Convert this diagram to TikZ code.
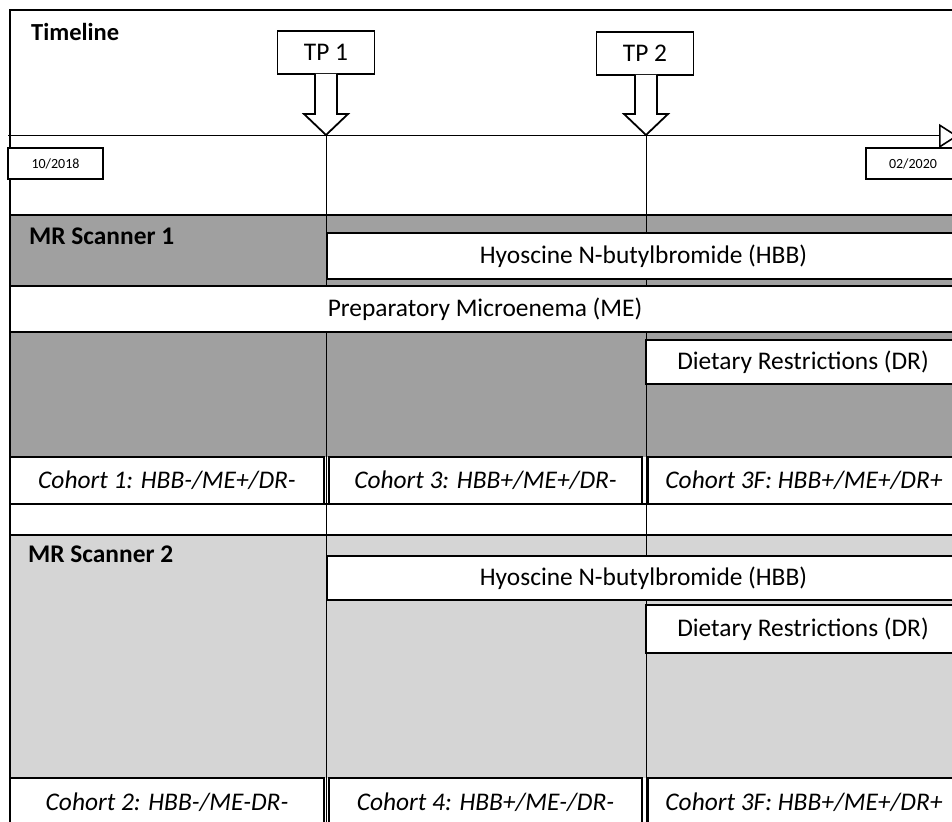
\documentclass[tikz,border=0pt]{standalone}
\usepackage{fontspec}
\setmainfont{Carlito}
\usetikzlibrary{arrows.meta,calc}
\definecolor{dgray}{RGB}{160,160,160}
\definecolor{lgray}{RGB}{213,213,213}
\begin{document}
\begin{tikzpicture}[x=1pt,y=-1pt,
  box/.style={draw, fill=white, line width=1.8pt, inner sep=0pt, outer sep=0pt},
  big/.style={font=\fontsize{25.4}{30}\selectfont},
  bigit/.style={font=\fontsize{25.4}{30}\selectfont\itshape},
  head/.style={font=\fontsize{24.5}{28}\selectfont\bfseries},
  small/.style={font=\fontsize{14}{16}\selectfont},
  sep/.style={line width=1.8pt},
  thinline/.style={line width=1pt},
  barrow/.style={draw, fill=white, line width=1.8pt, line join=miter}]
\useasboundingbox (0,0) rectangle (952,821);
\clip (0,0) rectangle (952,821);
\fill[white] (0,0) rectangle (952,821);
% section backgrounds
\fill[dgray] (10,215) rectangle (960,457);
\fill[lgray] (10,535) rectangle (960,778);
% timeline points and vertical guide lines
\coordinate (t1) at (326,135);
\coordinate (t2) at (646,135);
\coordinate (b1) at (326,840);
\coordinate (b2) at (646,840);
\draw[thinline] (t1) -- (b1);
\draw[thinline] (t2) -- (b2);
% timeline
\coordinate (tl0) at (8,136);
\coordinate (tl1) at (958,136);
\draw[thinline, -{Triangle[open, length=19pt, width=24pt, line width=1.6pt]}] (tl0) -- (tl1);
% outer frame and separators
\draw[sep] (10,840) -- (10,10) -- (970,10);
\draw[sep] (10,215) -- (960,215);
\draw[sep] (10,504) -- (960,504);
\draw[sep] (10,535) -- (960,535);
% headings
\node[head, anchor=base west, inner sep=0pt] (title) at (31,41) {Timeline};
\node[font=\fontsize{25.4}{30}\selectfont\bfseries, anchor=base west, inner sep=0pt] (s1) at (29,244) {MR Scanner 1};
\node[font=\fontsize{25.4}{30}\selectfont\bfseries, anchor=base west, inner sep=0pt] (s2) at (28,562) {MR Scanner 2};
% TP boxes and block arrows
\node[box, big, minimum width=97pt, minimum height=43pt, anchor=north] (tp1) at (326,31) {TP 1};
\node[box, big, minimum width=97pt, minimum height=43pt, anchor=north] (tp2) at (645,32) {TP 2};
\draw[barrow] ($(tp1.south -| t1)+(-11,0)$) -- ($(t1)+(-11,-21)$) -- ($(t1)+(-22,-21)$) -- (t1)
  -- ($(t1)+(22,-21)$) -- ($(t1)+(11,-21)$) -- ($(tp1.south -| t1)+(11,0)$);
\draw[barrow] ($(tp2.south -| t2)+(-11,0)$) -- ($(t2)+(-11,-21)$) -- ($(t2)+(-22,-21)$) -- (t2)
  -- ($(t2)+(22,-21)$) -- ($(t2)+(11,-21)$) -- ($(tp2.south -| t2)+(11,0)$);
% dates
\node[box, small, minimum width=95pt, minimum height=31pt, anchor=north west] (d1) at (8,148) {10/2018};
\node[box, small, minimum width=94pt, minimum height=31pt, anchor=north west] (d2) at (866,148) {02/2020};
% scanner 1
\node[box, big, minimum width=633pt, minimum height=46pt, anchor=north west] (hbb1) at (327,233) {Hyoscine N-butylbromide (HBB)};
\node[box, big, minimum width=950pt, minimum height=46pt, anchor=north west] (me) at (10,286) {Preparatory Microenema (ME)};
\node[box, big, minimum width=314pt, minimum height=44pt, anchor=north west] (dr1) at (646,340) {Dietary Restrictions (DR)};
\node[box, bigit, minimum width=314pt, minimum height=47pt, anchor=north west] (c1) at (10,457) {Cohort 1: HBB-/ME+/DR-};
\node[box, bigit, minimum width=313pt, minimum height=47pt, anchor=north west] (c3) at (329,457) {Cohort 3: HBB+/ME+/DR-};
\node[box, bigit, minimum width=312pt, minimum height=47pt, anchor=north west] (c3f) at (648,457) {Cohort 3F: HBB+/ME+/DR+};
% scanner 2
\node[box, big, minimum width=633pt, minimum height=44pt, anchor=north west] (hbb2) at (327,556) {Hyoscine N-butylbromide (HBB)};
\node[box, big, minimum width=314pt, minimum height=48pt, anchor=north west] (dr2) at (646,605) {Dietary Restrictions (DR)};
\node[box, bigit, minimum width=314pt, minimum height=48pt, anchor=north west] (c2) at (10,778) {Cohort 2: HBB-/ME-DR-};
\node[box, bigit, minimum width=313pt, minimum height=48pt, anchor=north west] (c4) at (329,778) {Cohort 4: HBB+/ME-/DR-};
\node[box, bigit, minimum width=312pt, minimum height=48pt, anchor=north west] (c3f2) at (648,778) {Cohort 3F: HBB+/ME+/DR+};
\end{tikzpicture}
\end{document}
